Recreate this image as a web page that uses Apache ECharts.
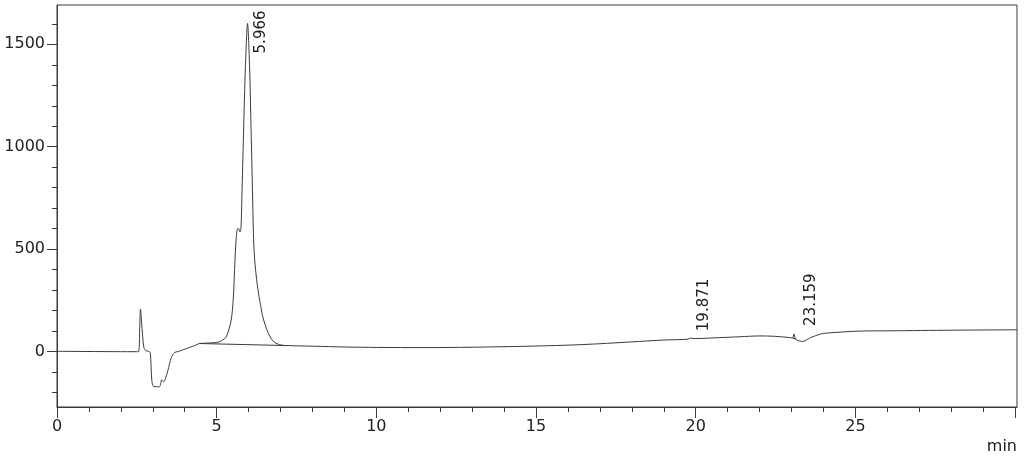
<!DOCTYPE html>
<html>
<head>
<meta charset="utf-8">
<style>
  html, body { margin: 0; padding: 0; background: #fff; }
  #chart { width: 1024px; height: 465px; }
</style>
<script src="https://cdn.jsdelivr.net/npm/echarts@6.0.0/dist/echarts.min.js"></script>
</head>
<body>
<div id="chart"></div>
<script>
// retention time (min) and detector signal
const times = [
  0, 2.5, 2.56, 2.59, 2.615, 2.65, 2.72, 2.79, 2.86, 2.92, 2.97, 3.03, 3.21, 3.28, 3.345, 3.4, 3.47, 3.58, 3.68, 3.8,
  3.94, 4.15, 4.3, 4.46, 4.7, 5.0, 5.15, 5.3, 5.45, 5.52, 5.56, 5.61, 5.66, 5.7, 5.73, 5.76, 5.79,
  5.84, 5.9, 5.966, 6.03, 6.08, 6.12, 6.15, 6.18, 6.22, 6.29, 6.37, 6.45, 6.6, 6.76, 6.97, 7.2,
  8, 9, 10, 11.5, 13, 14.5, 16, 17, 18, 19, 19.75, 19.84, 19.95, 20.5, 21.37, 22, 22.5, 22.94,
  23.03, 23.08, 23.13, 23.34, 23.6, 23.9, 24.1, 25.2, 26.07, 28, 30.06
];
const signal = [
  1, -1, 0, 120, 207, 140, 20, 3, 2, -5, -143, -171, -172, -138, -148, -130, -94, -29, -5, 0,
  8, 20, 28, 39, 41, 44, 52, 72, 150, 260, 400, 550, 600, 598, 584, 600, 760,
  1064, 1390, 1602, 1390, 1064, 790, 580, 470, 395, 305, 230, 166, 95, 52, 33, 29,
  26, 22, 20, 19, 21, 25, 31, 38, 47, 56, 60, 66, 63, 66, 72, 76, 74, 68,
  66, 86, 60, 49, 68, 85, 90, 100, 101, 104, 106
];

// integration baselines drawn under the peaks
const baselineMain = [[4.46, 39], [7.2, 29]];
const baselineSmall = [[23.03, 66], [23.13, 60]];

// annotated peaks
const peakTimes = [5.966, 19.871, 23.159];
const peakHeights = [1602, 65, 86];
const peakLabels = ['5.966', '19.871', '23.159'];

// axis ticks
const xMajor = [0, 5, 10, 15, 20, 25, 30];
const xLabels = [0, 5, 10, 15, 20, 25];
const xMinor = Array.from({length: 31}, (_, i) => i);
const yMajor = [0, 500, 1000, 1500];
const yMinor = [-200, -100, 0, 100, 200, 300, 400, 500, 600, 700, 800, 900, 1000, 1100, 1200, 1300, 1400, 1500, 1600];

const xMin = 0, xMax = 30.06, yMin = -271, yMax = 1692;
const ink = '#3a3a3a';
const font = 'DejaVu Sans';

const chart = echarts.init(document.getElementById('chart'));

chart.setOption({
  animation: false,
  grid: {
    left: 57, right: 7, top: 5, bottom: 58,
    outerBoundsMode: 'none',
    show: true, borderColor: ink, borderWidth: 1, backgroundColor: 'transparent'
  },
  xAxis: [{
    type: 'value', min: xMin, max: xMax, position: 'bottom',
    axisLine: { show: true, onZero: false, lineStyle: { color: ink, width: 1 } },
    axisTick: { show: true, customValues: xMajor, length: 11, lineStyle: { color: ink } },
    axisLabel: { customValues: xLabels, margin: 12, color: '#222', fontFamily: font, fontSize: 16,
      formatter: (v) => String(v) },
    splitLine: { show: false }
  }, {
    type: 'value', min: xMin, max: xMax, position: 'bottom',
    axisLine: { show: false, onZero: false },
    axisTick: { show: true, customValues: xMinor, length: 5, lineStyle: { color: ink } },
    axisLabel: { show: false },
    splitLine: { show: false }
  }],
  yAxis: [{
    type: 'value', min: yMin, max: yMax, position: 'left',
    axisLine: { show: true, onZero: false, lineStyle: { color: ink, width: 1 } },
    axisTick: { show: true, customValues: yMajor, length: 10, lineStyle: { color: ink } },
    axisLabel: { customValues: yMajor, margin: 12, color: '#222', fontFamily: font, fontSize: 16,
      formatter: (v) => String(v) },
    splitLine: { show: false }
  }, {
    type: 'value', min: yMin, max: yMax, position: 'left',
    axisLine: { show: false, onZero: false },
    axisTick: { show: true, customValues: yMinor, length: 5, lineStyle: { color: ink } },
    axisLabel: { show: false },
    splitLine: { show: false }
  }],
  series: [{
    type: 'line',
    data: times.map((t, i) => [t, signal[i]]),
    showSymbol: false,
    smooth: 0.3,
    lineStyle: { color: ink, width: 1 },
    z: 3
  }, {
    type: 'line', data: baselineMain, showSymbol: false,
    lineStyle: { color: ink, width: 1 }
  }, {
    type: 'line', data: baselineSmall, showSymbol: false,
    lineStyle: { color: ink, width: 1 }
  }]
});

// peak labels, rotated, anchored next to each apex
const labelShift = [[14, 30], [13, -7], [15, -8]];
const texts = peakTimes.map((t, i) => {
  const [px, py] = chart.convertToPixel({xAxisIndex: 0, yAxisIndex: 0}, [t, peakHeights[i]]);
  return {
    type: 'text',
    x: px + labelShift[i][0],
    y: py + labelShift[i][1],
    rotation: Math.PI / 2,
    style: {
      text: peakLabels[i], fill: '#222', font: '15px "DejaVu Sans"',
      align: 'left', verticalAlign: 'middle'
    }
  };
});
texts.push({
  type: 'text', x: 1017, y: 447,
  style: { text: 'min', fill: '#222', font: '16px "DejaVu Sans"', align: 'right', verticalAlign: 'middle' }
});
chart.setOption({ graphic: texts });
</script>
</body>
</html>
